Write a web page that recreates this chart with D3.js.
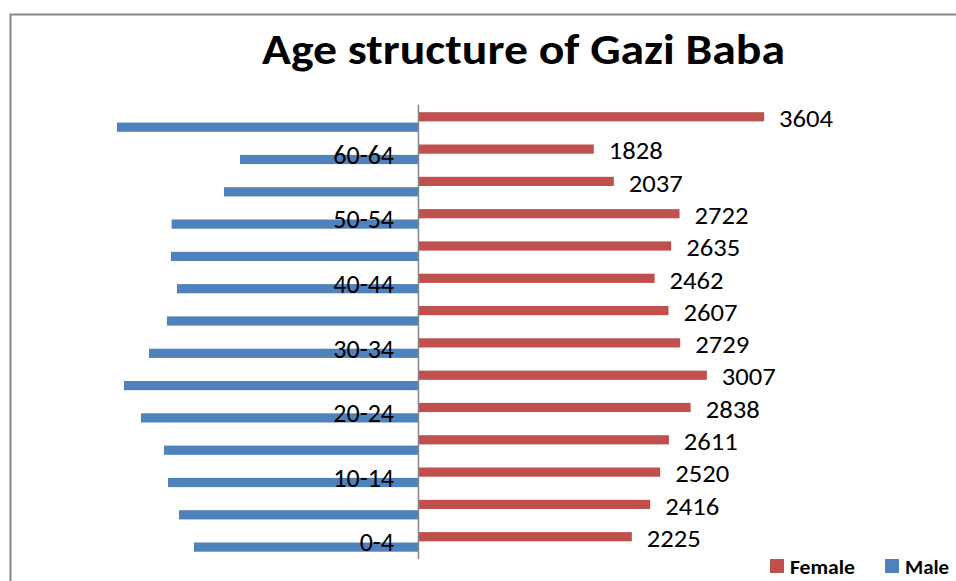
<!DOCTYPE html>
<html>
<head>
<meta charset="utf-8">
<script src="https://cdn.jsdelivr.net/npm/d3@7"></script>
<style>
  body { margin: 0; background: #fff; }
  svg { display: block; font-family: Carlito, Lato, "Open Sans", sans-serif; }
</style>
</head>
<body>
<svg id="chart" width="956" height="581"></svg>
<script>
// age groups, top of chart first
const ageGroups = ['65+', '60-64', '55-59', '50-54', '45-49', '40-44', '35-39',
  '30-34', '25-29', '20-24', '15-19', '10-14', '5-9', '0-4'];
const shownLabels = ['60-64', '50-54', '40-44', '30-34', '20-24', '10-14', '0-4'];
const female = [3604, 1828, 2037, 2722, 2635, 2462, 2607, 2729, 3007, 2838, 2611, 2520, 2416, 2225];
// male values (no labels in the original)
const male = [3144, 1861, 2028, 2574, 2581, 2518, 2623, 2810, 3071, 2894, 2654, 2612, 2497, 2341];

const colors = { female: '#C0504D', male: '#4F81BD', axis: '#868686' };

const svg = d3.select('#chart');

// outer frame (only top and left edges visible in the picture)
svg.append('rect')
  .attr('x', 10.5).attr('y', 14.5)
  .attr('width', 1000).attr('height', 700)
  .attr('fill', 'none')
  .attr('stroke', colors.axis)
  .attr('stroke-width', 2);

svg.append('text')
  .attr('x', 523.5).attr('y', 64)
  .attr('text-anchor', 'middle')
  .attr('font-size', 42)
  .attr('font-weight', 'bold')
  .attr('textLength', 523)
  .attr('lengthAdjust', 'spacingAndGlyphs')
  .text('Age structure of Gazi Baba');

const x = d3.scaleLinear()
  .domain([-3500, 5000])
  .range([82.8, 898]);

const y = d3.scaleBand()
  .domain(ageGroups)
  .range([105.85, 558.05])
  .padding(0);

const barH = 9.2;
const g = svg.append('g');

// male bars go left of zero
g.selectAll('.male')
  .data(ageGroups)
  .enter().append('rect')
  .attr('class', 'male')
  .attr('x', (d, i) => x(-male[i]))
  .attr('y', d => y(d) + y.bandwidth() / 2 + 0.6)
  .attr('width', (d, i) => x(0) - x(-male[i]))
  .attr('height', barH)
  .attr('fill', colors.male);

// category labels sit on top of the male bars
g.selectAll('.cat')
  .data(ageGroups.filter(d => shownLabels.includes(d)))
  .enter().append('text')
  .attr('class', 'cat')
  .attr('x', 394)
  .attr('y', d => y(d) + y.bandwidth() / 2 + 0.5)
  .attr('text-anchor', 'end')
  .attr('dominant-baseline', 'central')
  .attr('font-size', 26)
  .attr('fill', '#000')
  .text(d => d);

g.selectAll('.female')
  .data(ageGroups)
  .enter().append('rect')
  .attr('class', 'female')
  .attr('x', x(0))
  .attr('y', d => y(d) + y.bandwidth() / 2 - barH - 0.6)
  .attr('width', (d, i) => x(female[i]) - x(0))
  .attr('height', barH)
  .attr('fill', colors.female);

g.selectAll('.val')
  .data(ageGroups)
  .enter().append('text')
  .attr('class', 'val')
  .attr('x', (d, i) => x(female[i]) + 15)
  .attr('y', d => y(d) + y.bandwidth() / 2 - 3.5)
  .attr('dominant-baseline', 'central')
  .attr('font-size', 25)
  .attr('textLength', 54)
  .attr('lengthAdjust', 'spacingAndGlyphs')
  .attr('fill', '#000')
  .text((d, i) => female[i]);

// vertical category axis at zero
g.append('line')
  .attr('x1', x(0)).attr('x2', x(0))
  .attr('y1', y.range()[0] - 1).attr('y2', y.range()[1] + 1)
  .attr('stroke', colors.axis)
  .attr('stroke-width', 1.5);

// legend
const legendItems = [
  { name: 'Female', color: colors.female, x: 770, w: 65 },
  { name: 'Male', color: colors.male, x: 885, w: 44 }
];
const legend = svg.selectAll('.legend')
  .data(legendItems)
  .enter().append('g')
  .attr('class', 'legend')
  .attr('transform', d => `translate(${d.x},559)`);

legend.append('rect')
  .attr('width', 14).attr('height', 14)
  .attr('fill', d => d.color);

legend.append('text')
  .attr('x', 20).attr('y', 7.5)
  .attr('dominant-baseline', 'central')
  .attr('font-size', 20)
  .attr('font-weight', 'bold')
  .attr('textLength', d => d.w)
  .attr('lengthAdjust', 'spacingAndGlyphs')
  .text(d => d.name);
</script>
</body>
</html>
